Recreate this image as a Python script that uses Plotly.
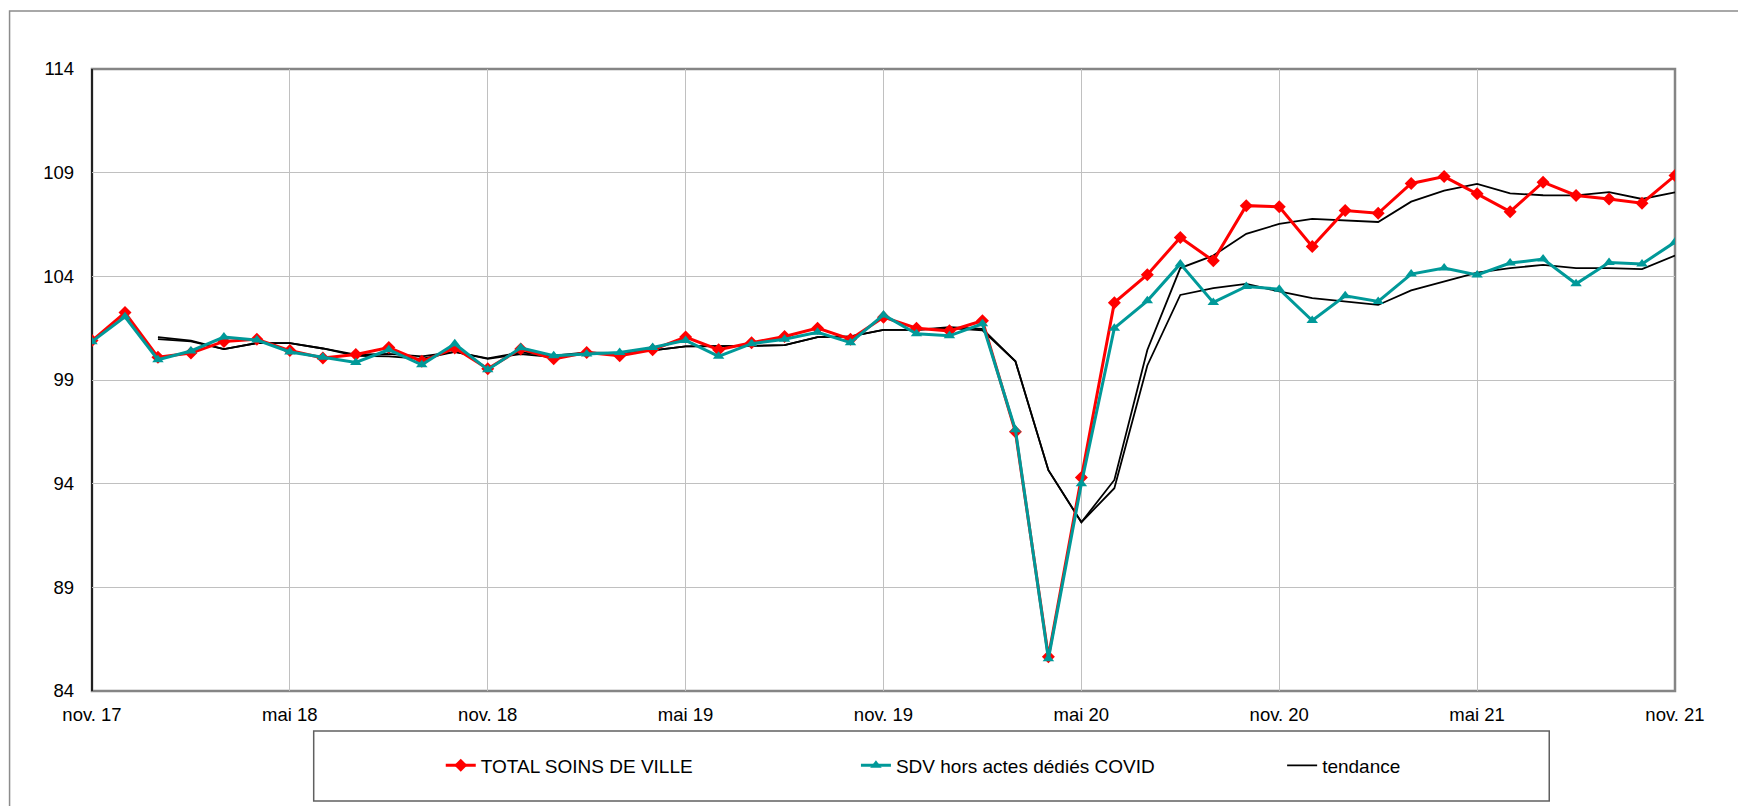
import plotly.graph_objects as go

months = ["nov. 17", "déc. 17",
          "janv. 18", "févr. 18", "mars 18", "avr. 18", "mai 18", "juin 18",
          "juil. 18", "août 18", "sept. 18", "oct. 18", "nov. 18", "déc. 18",
          "janv. 19", "févr. 19", "mars 19", "avr. 19", "mai 19", "juin 19",
          "juil. 19", "août 19", "sept. 19", "oct. 19", "nov. 19", "déc. 19",
          "janv. 20", "févr. 20", "mars 20", "avr. 20", "mai 20", "juin 20",
          "juil. 20", "août 20", "sept. 20", "oct. 20", "nov. 20", "déc. 20",
          "janv. 21", "févr. 21", "mars 21", "avr. 21", "mai 21", "juin 21",
          "juil. 21", "août 21", "sept. 21", "oct. 21", "nov. 21"]

tick_labels = ["nov. 17", "mai 18", "nov. 18", "mai 19", "nov. 19",
               "mai 20", "nov. 20", "mai 21", "nov. 21"]
y_ticks = [84, 89, 94, 99, 104, 109, 114]

total_sdv = [100.9, 102.25, 100.1, 100.3, 100.86, 100.97, 100.42, 100.06,
             100.23, 100.57, 99.9, 100.54, 99.54, 100.5, 100.02, 100.33,
             100.17, 100.46, 101.07, 100.46, 100.8, 101.1, 101.5, 100.97,
             102.03, 101.5, 101.37, 101.86, 96.5, 85.65, 94.3, 102.73,
             104.08, 105.87, 104.75, 107.41, 107.36, 105.44, 107.17, 107.04,
             108.48, 108.81, 107.98, 107.12, 108.54, 107.9, 107.73, 107.53,
             108.86]

sdv_hors_covid = [100.85, 102.05, 99.98, 100.4, 101.07, 100.93, 100.35, 100.1,
                  99.85, 100.46, 99.73, 100.75, 99.5, 100.55, 100.17, 100.26,
                  100.33, 100.57, 100.91, 100.14, 100.75, 100.97, 101.3, 100.8,
                  102.14, 101.23, 101.13, 101.71, 96.6, 85.55, 94.0, 101.5,
                  102.82, 104.6, 102.74, 103.51, 103.38, 101.87, 103.06, 102.79,
                  104.11, 104.4, 104.07, 104.64, 104.83, 103.64, 104.67, 104.6,
                  105.65]

tendance_total = [None, None, 101.07, 100.9, 100.49, 100.78, 100.78, 100.52,
                  100.22, 100.26, 100.14, 100.36, 100.04, 100.33, 100.17, 100.33,
                  100.3, 100.43, 100.62, 100.62, 100.65, 100.68, 101.07, 101.1,
                  101.42, 101.42, 101.55, 101.47, 99.9, 94.65, 92.14, 94.18,
                  100.45, 104.4, 105.0, 106.05, 106.53, 106.77, 106.69, 106.62,
                  107.6, 108.13, 108.46, 108.0, 107.91, 107.9, 108.06, 107.73,
                  108.05]

tendance_hors_covid = [None, None, 100.97, 100.86, 100.49, 100.78, 100.78, 100.52,
                       100.17, 100.14, 100.02, 100.36, 100.02, 100.25, 100.1, 100.3,
                       100.3, 100.43, 100.62, 100.62, 100.65, 100.68, 101.07, 101.1,
                       101.42, 101.42, 101.5, 101.4, 99.9, 94.65, 92.14, 93.78,
                       99.7, 103.1, 103.43, 103.64, 103.27, 102.95, 102.79, 102.62,
                       103.32, 103.75, 104.18, 104.4, 104.55, 104.4, 104.4, 104.35,
                       105.0]

FONT = "Liberation Sans, Arial, sans-serif"
RED = "#FF0000"
TEAL = "#009999"

fig = go.Figure()

fig.add_trace(go.Scatter(
    x=months, y=tendance_total, mode="lines", name="tendance",
    line=dict(color="black", width=1.8), legend="legend3", showlegend=True))
fig.add_trace(go.Scatter(
    x=months, y=tendance_hors_covid, mode="lines", name="tendance",
    line=dict(color="black", width=1.8), showlegend=False))
fig.add_trace(go.Scatter(
    x=months, y=total_sdv, mode="lines+markers", name="TOTAL SOINS DE VILLE",
    line=dict(color=RED, width=3),
    marker=dict(symbol="diamond", size=10, color=RED),
    legend="legend"))
fig.add_trace(go.Scatter(
    x=months, y=sdv_hors_covid, mode="lines+markers",
    name="SDV hors actes dédiés COVID",
    line=dict(color=TEAL, width=3),
    marker=dict(symbol="triangle-up", size=10, color=TEAL),
    legend="legend2"))

W, H = 1746, 806
OFF = 8  # page body margin offset
L, R, T, B = 92.4 - OFF, 1674.7 - OFF, 69.0 - OFF, 691.5 - OFF
pw, ph = R - L, B - T


def px_x(p):
    return (p - OFF - L) / pw


def px_y(p):
    return (B - (p - OFF)) / ph


shapes = [
    # outer frame
    dict(type="rect", xref="paper", yref="paper",
         x0=px_x(10), x1=px_x(1780), y0=px_y(11), y1=px_y(840),
         line=dict(color="#8c8c8c", width=1.5), layer="below"),
    # plot frame (top/right/bottom)
    dict(type="rect", xref="paper", yref="paper", x0=0, x1=1, y0=0, y1=1,
         line=dict(color="#858585", width=2.5), layer="between"),
    # left axis line black
    dict(type="line", xref="paper", yref="paper", x0=0, x1=0, y0=0, y1=1,
         line=dict(color="black", width=1.5), layer="between"),
    # legend box
    dict(type="rect", xref="paper", yref="paper",
         x0=px_x(314), x1=px_x(1549), y0=px_y(801.7), y1=px_y(731.5),
         line=dict(color="#606060", width=1.5), layer="below"),
]

leg_common = dict(orientation="h", xanchor="left", yanchor="middle",
                  y=px_y(766), bgcolor="rgba(0,0,0,0)", borderwidth=0,
                  font=dict(family=FONT, size=19, color="black"))

fig.update_layout(
    width=W, height=H,
    margin=dict(l=L, r=W - R, t=T, b=H - B, pad=0),
    paper_bgcolor="white", plot_bgcolor="white",
    font=dict(family=FONT, size=18.5, color="black"),
    shapes=shapes,
    legend=dict(x=px_x(441), **leg_common),
    legend2=dict(x=px_x(856), **leg_common),
    legend3=dict(x=px_x(1282), **leg_common),
    xaxis=dict(
        type="category", categoryorder="array", categoryarray=months,
        range=[0, len(months) - 1],
        tickmode="array", tickvals=tick_labels, ticktext=tick_labels,
        showgrid=True, gridcolor="#c0c0c0", gridwidth=1,
        showline=False, zeroline=False, ticks="",
        tickfont=dict(family=FONT, size=18.5), ticklabelstandoff=10,
    ),
    yaxis=dict(
        range=[84, 114], tickmode="array", tickvals=y_ticks,
        showgrid=True, gridcolor="#c0c0c0", gridwidth=1,
        showline=False, zeroline=False, ticks="",
        tickfont=dict(family=FONT, size=18.5), ticklabelstandoff=17,
    ),
)

fig.write_html("out.html")
